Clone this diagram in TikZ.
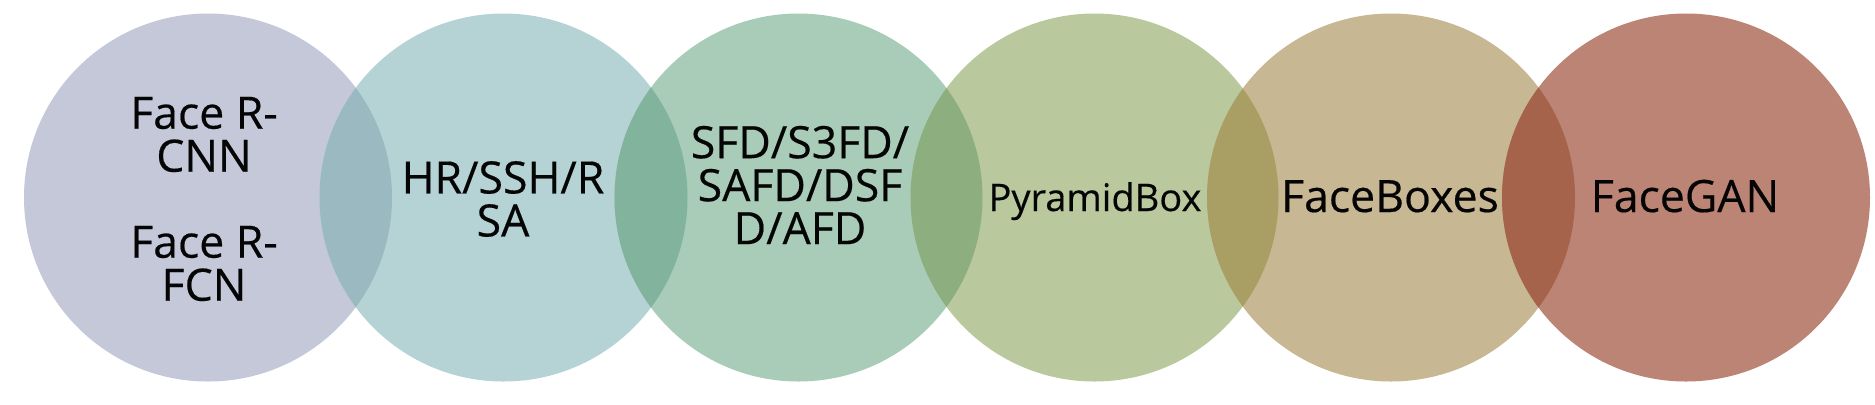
\documentclass[tikz,border=0pt]{standalone}
\usepackage{fontspec}
\setmainfont{Open Sans}[FakeBold=0.4]
\definecolor{cA}{HTML}{C4C8D9}
\definecolor{cB}{HTML}{B5D2D4}
\definecolor{cC}{HTML}{A8CCB8}
\definecolor{cD}{HTML}{BAC89E}
\definecolor{cE}{HTML}{C8B793}
\definecolor{cF}{HTML}{BB8474}
\definecolor{lAB}{HTML}{9BB9C1}
\definecolor{lBC}{HTML}{82B39C}
\definecolor{lCD}{HTML}{8DAE7E}
\definecolor{lDE}{HTML}{A99E63}
\definecolor{lEF}{HTML}{A5634B}
\definecolor{ink}{HTML}{050505}
\begin{document}
\begin{tikzpicture}[x=0.5pt,y=-0.5pt,
  circ/.style={circle,minimum size=184pt,inner sep=0pt,draw=none},
  lbl/.style={text=ink,align=center,font=\fontsize{22.3pt}{21.5pt}\selectfont,inner sep=0pt},
  lblsmall/.style={text=ink,align=center,font=\fontsize{19pt}{21.5pt}\selectfont,inner sep=0pt}]
\fill[white] (0,0) rectangle (1875,404);
\useasboundingbox (0,0) rectangle (1875,404);
\node[circ,fill=cA] (c1) at (208,197.5) {};
\node[circ,fill=cB] (c2) at (503.5,197.5) {};
\node[circ,fill=cC] (c3) at (798.5,197.5) {};
\node[circ,fill=cD] (c4) at (1094.5,197.5) {};
\node[circ,fill=cE] (c5) at (1391,197.5) {};
\node[circ,fill=cF] (c6) at (1686,197.5) {};
\begin{scope}\clip (c1.center) circle[radius=92pt]; \fill[lAB] (c2.center) circle[radius=92pt];\end{scope}
\begin{scope}\clip (c2.center) circle[radius=92pt]; \fill[lBC] (c3.center) circle[radius=92pt];\end{scope}
\begin{scope}\clip (c3.center) circle[radius=92pt]; \fill[lCD] (c4.center) circle[radius=92pt];\end{scope}
\begin{scope}\clip (c4.center) circle[radius=92pt]; \fill[lDE] (c5.center) circle[radius=92pt];\end{scope}
\begin{scope}\clip (c5.center) circle[radius=92pt]; \fill[lEF] (c6.center) circle[radius=92pt];\end{scope}
\node[lbl] (t1) at (204,199) {Face R-\\CNN\\[21.5pt]Face R-\\FCN};
\node[lbl] (t2) at (503,199) {HR/SSH/R\\SA};
\node[lbl] (t3) at (800,185) {SFD/S3FD/\\SAFD/DSF\\D/AFD};
\node[lblsmall,anchor=base] (t4) at (1095,211) {PyramidBox};
\node[lbl,anchor=base] (t5) at (1390,212) {FaceBoxes};
\node[lbl,anchor=base] (t6) at (1685,212) {FaceGAN};
\end{tikzpicture}
\end{document}
